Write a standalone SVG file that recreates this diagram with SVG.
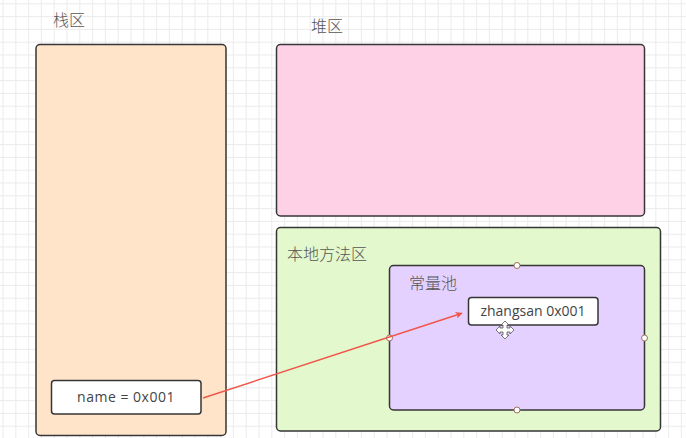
<svg xmlns="http://www.w3.org/2000/svg" width="686" height="438" viewBox="0 0 686 438">
<defs>
<pattern id="grid" patternUnits="userSpaceOnUse" x="2.5" y="3.3" width="12.8" height="12.8">
<path d="M0 0.5H12.8M0.5 0V12.8" stroke="#ebebeb" stroke-width="1" fill="none"/>
</pattern>
<marker id="arr" viewBox="0 0 10 10" refX="9" refY="5" markerWidth="7" markerHeight="7" markerUnits="userSpaceOnUse" orient="auto">
<path d="M0 0L10 5L0 10L2.5 5Z" fill="#f0564a"/>
</marker>
<style>
.box{stroke:#363636;stroke-width:1.5}
.lbl{font-family:"Noto Sans CJK SC","Liberation Sans",sans-serif;font-size:16px;font-weight:300;fill:#555}
.txt{font-family:"Open Sans","Liberation Sans",sans-serif;font-size:14px;fill:#444}
.h{fill:#fff;stroke:#a07060;stroke-width:1}
</style>
</defs>
<rect width="686" height="438" fill="#fff"/>
<rect width="686" height="438" fill="url(#grid)"/>
<g id="stack">
<rect class="box" x="36" y="44.5" width="190" height="391" rx="4" fill="#ffe4c9"/>
<text class="lbl" x="53" y="26">栈区</text>
</g>
<g id="heap">
<rect class="box" x="276.5" y="44.5" width="368" height="171.5" rx="4" fill="#ffd1e7"/>
<text class="lbl" x="311" y="32">堆区</text>
</g>
<g id="method-area">
<rect class="box" x="276.5" y="227.5" width="384" height="203.5" rx="4" fill="#e3f8cc"/>
<text class="lbl" x="287" y="260">本地方法区</text>
</g>
<g id="constant-pool">
<rect class="box" x="389.5" y="265.5" width="255" height="144.5" rx="4" fill="#e4d1ff"/>
<text class="lbl" x="409" y="289">常量池</text>
<circle class="h" cx="517" cy="265.5" r="3"/>
<circle class="h" cx="389.5" cy="338" r="3"/>
<circle class="h" cx="644.5" cy="338" r="3"/>
<circle class="h" cx="517" cy="410" r="3"/>
</g>
<g id="zhangsan">
<rect class="box" x="468.5" y="297.5" width="129.5" height="27.5" rx="3" fill="#fff"/>
<text class="txt" x="533" y="316" text-anchor="middle">zhangsan 0x001</text>
</g>
<g id="name">
<rect class="box" x="51.5" y="380.5" width="149.5" height="33.5" rx="3" fill="#fff"/>
<text class="txt" x="126" y="402" text-anchor="middle" letter-spacing="0.5">name = 0x001</text>
</g>
<g id="connectors">
<line x1="203" y1="398" x2="462" y2="313.3" stroke="#f0564a" stroke-width="1.5" marker-end="url(#arr)"/>
</g>
<g id="cursor" fill="#fff" stroke="#555" stroke-width="0.8">
<path d="M505 321L509 325H507V328H510V326L514 330L510 334V332H507V335H509L505 339L501 335H503V332H500V334L496 330L500 326V328H503V325H501Z"/>
</g>
</svg>
